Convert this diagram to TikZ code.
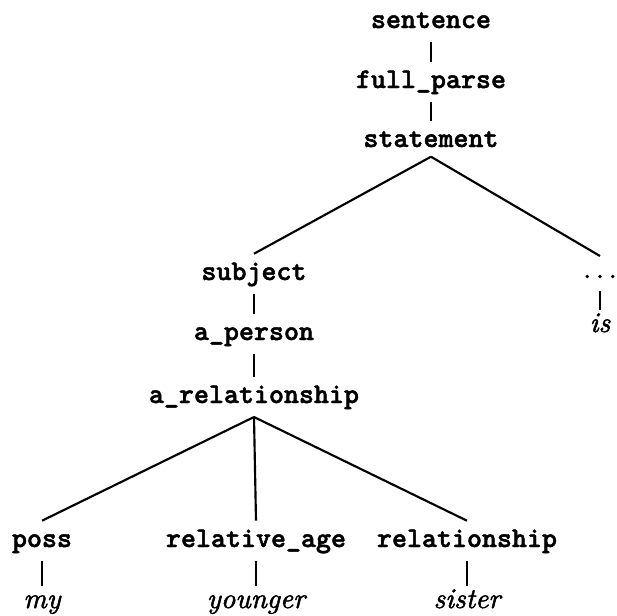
\documentclass[tikz,border=0pt]{standalone}
\usepackage{fontspec}
\newfontfamily\heavytt[FakeBold=1.6]{lmmonolt10-bold.otf}
\newfontfamily\heavyit[FakeBold=1.8]{lmroman10-italic.otf}
\newfontfamily\heavyrm[FakeBold=1.8]{lmroman10-regular.otf}
\begin{document}
\begin{tikzpicture}[x=0.35pt,y=-0.35pt,
  lab/.style={font=\heavytt\fontsize{10}{12}\selectfont, anchor=base,
    text height=6.5pt, text depth=2.2pt, inner xsep=0pt, inner ysep=2.5pt},
  wrd/.style={font=\heavyit\fontsize{10}{12}\selectfont, anchor=base,
    text height=5pt, text depth=2pt, inner xsep=0pt, inner ysep=2.5pt},
  dts/.style={font=\heavyrm\fontsize{10}{12}\selectfont, anchor=base,
    text height=5pt, text depth=2pt, inner xsep=0pt, inner ysep=2.5pt},
  edge/.style={line width=0.75pt}]
\useasboundingbox (0,0) rectangle (617,616);
\node[lab] (sentence) at (431,28) {sentence};
\node[lab] (fullparse) at (431,88) {full\_parse};
\node[lab] (statement) at (431,147) {statement};
\node[lab] (subject) at (254,280) {subject};
\node[dts] (dots) at (600,278) {.\kern0.1667em.\kern0.1667em.};
\node[wrd] (is) at (600,332) {is};
\node[lab] (aperson) at (254,340) {a\_person};
\node[lab] (arel) at (254,403) {a\_relationship};
\node[lab] (poss) at (42,547) {poss};
\node[lab] (relage) at (256,547) {relative\_age};
\node[lab] (relship) at (467,547) {relationship};
\node[wrd] (my) at (42,608) {my};
\node[wrd] (younger) at (256,608) {younger};
\node[wrd] (sister) at (467,608) {sister};
\draw[edge] (sentence.south) -- (fullparse.north);
\draw[edge] (fullparse.south) -- (statement.north);
\draw[edge] ([yshift=1.5pt]statement.south) -- (subject.north);
\draw[edge] ([yshift=1.5pt]statement.south) -- (dots.north);
\draw[edge] (dots.south) -- (is.north);
\draw[edge] (subject.south) -- (aperson.north);
\draw[edge] (aperson.south) -- (arel.north);
\draw[edge] (arel.south) -- (poss.north);
\draw[edge] (arel.south) -- (relage.north);
\draw[edge] (arel.south) -- (relship.north);
\draw[edge] (poss.south) -- (my.north);
\draw[edge] (relage.south) -- (younger.north);
\draw[edge] (relship.south) -- (sister.north);
\end{tikzpicture}
\end{document}
